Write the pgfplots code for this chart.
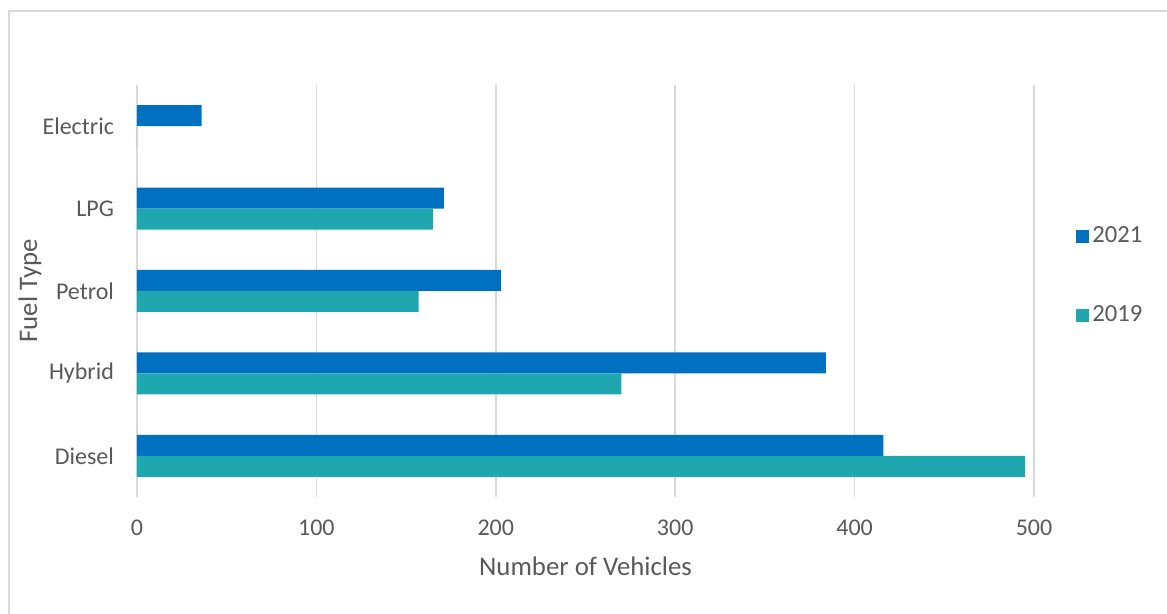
\documentclass[border=0pt]{standalone}
\usepackage{pgfplots}
\pgfplotsset{compat=1.18}
\usepackage{fontspec}
\setmainfont{Carlito}
\definecolor{c21}{HTML}{0070C0}
\definecolor{c19}{HTML}{1FA7B0}
\definecolor{txt}{HTML}{595959}
\definecolor{grid}{HTML}{D9D9D9}
\begin{document}
\begin{tikzpicture}
\useasboundingbox (0,0) rectangle (583.5pt,307pt);
\draw[color=grid, line width=1pt] (4.5pt,-20pt) rectangle (600pt,301.5pt);
\begin{axis}[
  at={(68.5pt,58.5pt)}, anchor=south west,
  scale only axis, width=448.5pt, height=206pt,
  xbar, bar width=10.5pt,
  xmin=0, xmax=500, ymin=-0.5, ymax=4.5,
  xtick={0,100,200,300,400,500},
  ytick={0,1,2,3,4},
  yticklabels={Diesel,Hybrid,Petrol,LPG,Electric},
  axis line style={draw=none},
  major tick length=0pt,
  xmajorgrids, major grid style={color=grid, line width=0.8pt},
  /pgf/number format/assume math mode=true,
  font=\fontsize{12}{14}\selectfont,
  every tick label/.append style={text=txt},
  xticklabel style={anchor=center, yshift=-15.5pt},
  yticklabel style={anchor=east, xshift=-8pt},
  xlabel={Number of Vehicles},
  ylabel={Fuel Type},
  label style={text=txt, font=\fontsize{13.4}{15}\selectfont},
  xlabel style={at={(axis description cs:0.5,-0.1675)}, anchor=center},
  ylabel style={at={(axis description cs:-0.1193,0.5)}, anchor=center},
  legend style={draw=none, fill=none, at={(axis description cs:1.0468,0.5364)}, anchor=west,
    inner sep=0pt, row sep=27pt, text=txt, font=\fontsize{12.3}{14}\selectfont,
    nodes={inner sep=1.5pt}},
  legend cell align=left,
  legend image code/.code={\fill[#1] (0pt,-3.25pt) rectangle (6.5pt,3.25pt);},
]
\addplot[fill=c21, draw=none, bar shift=5.25pt] coordinates {(416,0) (384,1) (203,2) (171,3) (36,4)};
\addlegendentry{2021}
\addplot[fill=c19, draw=none, bar shift=-5.25pt] coordinates {(495,0) (270,1) (157,2) (165,3) (0,4)};
\addlegendentry{2019}
\end{axis}
\end{tikzpicture}
\end{document}
